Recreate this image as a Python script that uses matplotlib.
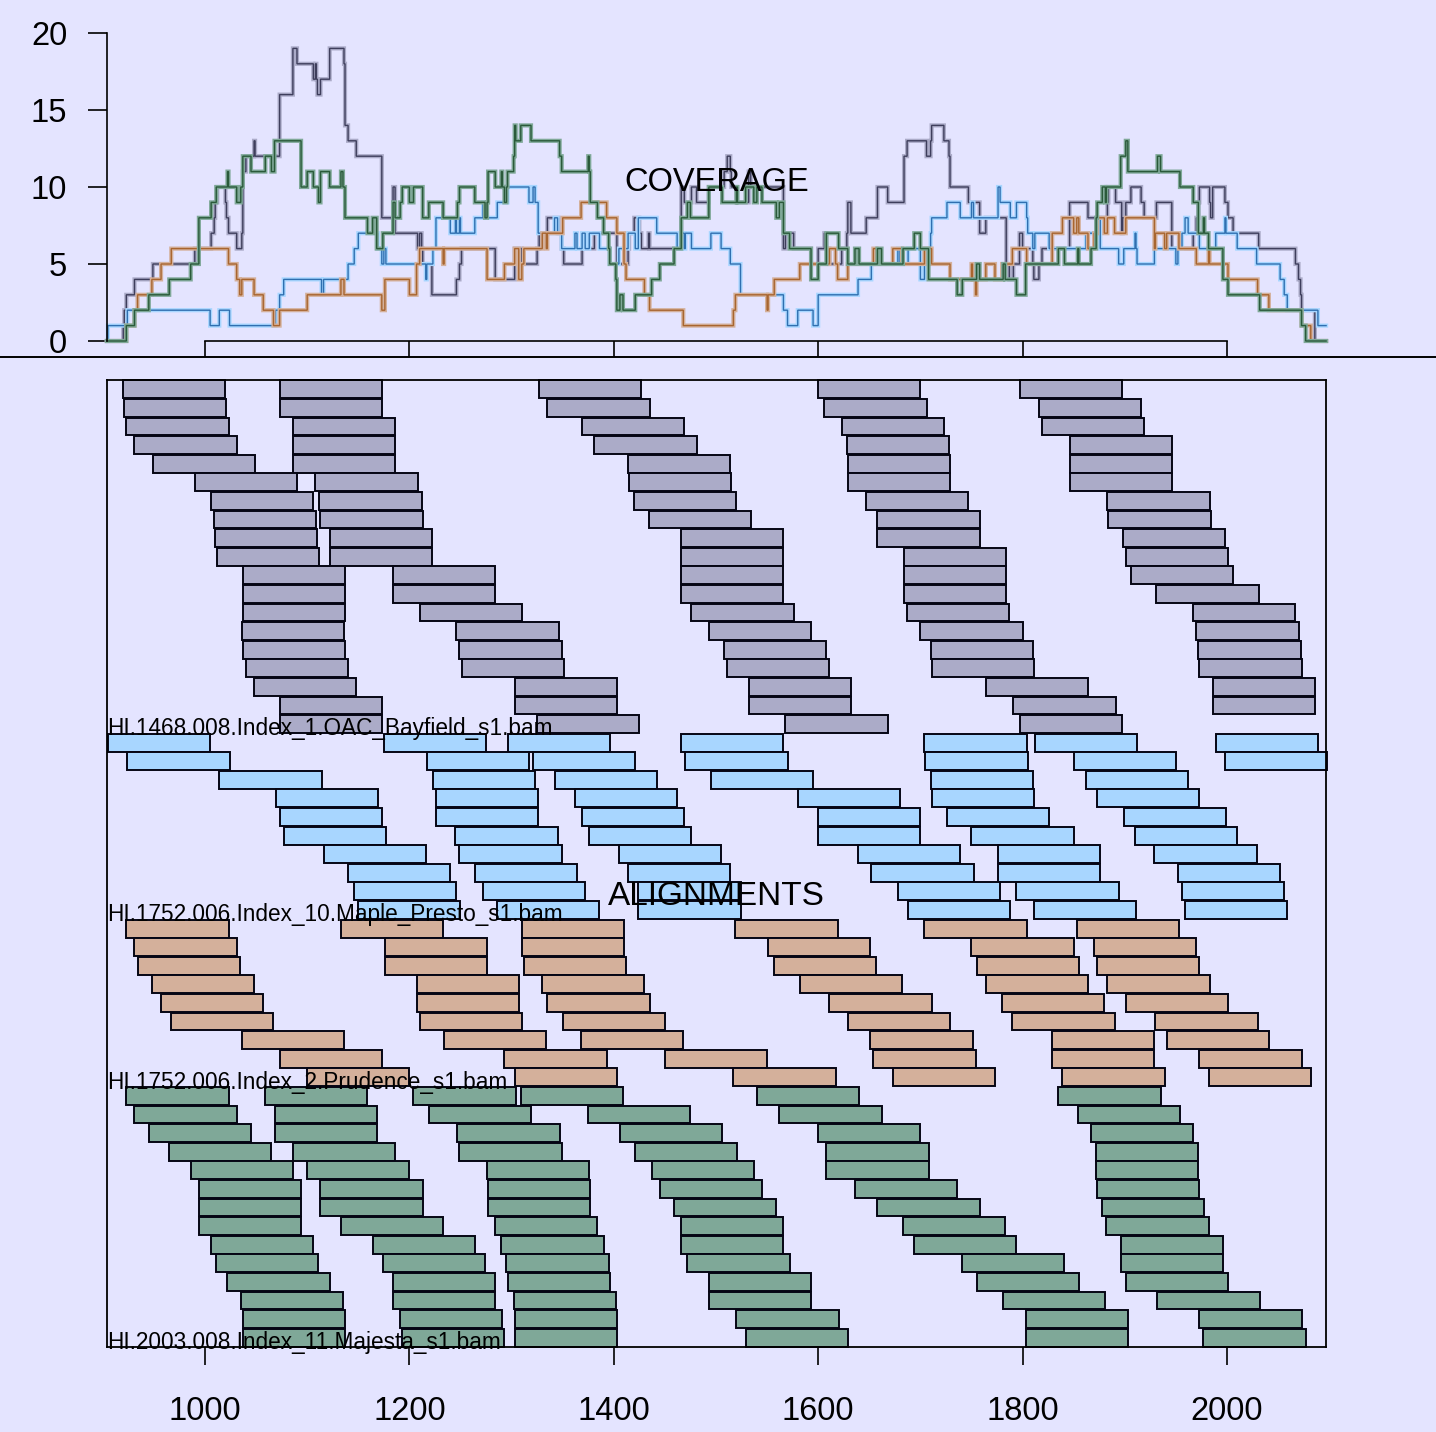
import matplotlib
matplotlib.use("Agg")
import matplotlib.pyplot as plt
import numpy as np
from matplotlib.lines import Line2D

# ---------------------------------------------------------------------------
# Config
# ---------------------------------------------------------------------------

W, H = 1436, 1432
READ_LEN = 100
XMIN, XMAX = 904.1, 2096.9
BG = "#E4E4FF"

plt.rcParams["font.family"] = ["Liberation Sans", "DejaVu Sans"]

SAMPLES = [
    "HI.1468.008.Index_1.OAC_Bayfield_s1.bam",
    "HI.1752.006.Index_10.Maple_Presto_s1.bam",
    "HI.1752.006.Index_2.Prudence_s1.bam",
    "HI.2003.008.Index_11.Majesta_s1.bam",
]
FILLS = ["#ABABC8", "#A8D6FF", "#D4B09B", "#7FA898"]
LINE_COLORS = ["#3E3E5C", "#2F6FB0", "#A8652F", "#2A5A3A"]

# read start positions, one list per stacked row
bayfield_reads = [
    [920, 1073, 1327, 1600, 1797],
    [921, 1073, 1335, 1606, 1816],
    [923, 1086, 1369, 1623, 1819],
    [931, 1086, 1381, 1628, 1846],
    [949, 1086, 1414, 1629, 1846],
    [990, 1108, 1415, 1629, 1846],
    [1006, 1112, 1420, 1647, 1883],
    [1009, 1113, 1434, 1658, 1884],
    [1010, 1122, 1466, 1658, 1898],
    [1012, 1122, 1466, 1684, 1901],
    [1037, 1184, 1466, 1684, 1906],
    [1037, 1184, 1466, 1684, 1931],
    [1037, 1210, 1476, 1687, 1967],
    [1036, 1246, 1493, 1700, 1970],
    [1037, 1249, 1508, 1710, 1972],
    [1040, 1251, 1511, 1711, 1973],
    [1048, 1303, 1532, 1764, 1986],
    [1073, 1303, 1532, 1791, 1986],
    [1073, 1325, 1568, 1797],
]

presto_reads = [
    [905, 1175, 1296, 1466, 1704, 1812, 1989],
    [924, 1217, 1321, 1470, 1705, 1850, 1998],
    [1014, 1223, 1342, 1495, 1710, 1862],
    [1069, 1226, 1362, 1580, 1711, 1873],
    [1073, 1226, 1369, 1600, 1726, 1899],
    [1077, 1245, 1376, 1600, 1750, 1910],
    [1116, 1249, 1405, 1639, 1776, 1929],
    [1140, 1264, 1414, 1652, 1776, 1952],
    [1146, 1272, 1424, 1678, 1794, 1956],
    [1150, 1286, 1424, 1688, 1811, 1959],
]

prudence_reads = [
    [923, 1133, 1310, 1519, 1704, 1853],
    [931, 1176, 1310, 1551, 1750, 1870],
    [934, 1176, 1312, 1557, 1755, 1873],
    [948, 1207, 1330, 1582, 1764, 1883],
    [957, 1207, 1335, 1611, 1780, 1901],
    [967, 1210, 1350, 1629, 1790, 1930],
    [1036, 1234, 1368, 1651, 1829, 1941],
    [1073, 1293, 1450, 1654, 1829, 1973],
    [1100, 1303, 1517, 1673, 1839, 1982],
]

majesta_reads = [
    [923, 1059, 1204, 1309, 1540, 1835],
    [931, 1068, 1219, 1375, 1562, 1854],
    [945, 1068, 1247, 1406, 1600, 1867],
    [965, 1086, 1249, 1421, 1608, 1872],
    [986, 1100, 1276, 1437, 1608, 1872],
    [994, 1113, 1277, 1445, 1636, 1873],
    [994, 1113, 1277, 1459, 1658, 1878],
    [994, 1133, 1284, 1466, 1683, 1882],
    [1006, 1164, 1290, 1466, 1694, 1896],
    [1011, 1174, 1295, 1472, 1741, 1896],
    [1022, 1184, 1296, 1493, 1755, 1901],
    [1035, 1184, 1302, 1493, 1781, 1932],
    [1037, 1191, 1303, 1520, 1803, 1973],
    [1037, 1193, 1303, 1529, 1803, 1977],
]

ALL_READS = [bayfield_reads, presto_reads, prudence_reads, majesta_reads]

XTICKS = [1000, 1200, 1400, 1600, 1800, 2000]
YTICKS = [0, 5, 10, 15, 20]


def coverage(rows, pos):
    starts = np.array([s for r in rows for s in r])
    inside = (pos[:, None] >= starts) & (pos[:, None] < starts + READ_LEN)
    return inside.sum(axis=1)


# ---------------------------------------------------------------------------
# Figure
# ---------------------------------------------------------------------------

fig = plt.figure(figsize=(W / 100, H / 100), dpi=100, facecolor=BG)

# ---- coverage panel ----
ax_cov = fig.add_axes([107 / W, 1 - 341 / H, 1219 / W, 308 / H])
ax_cov.set_facecolor("none")
pos = np.arange(904, 2098)
for rows, fill, dark in zip(ALL_READS, FILLS, LINE_COLORS):
    cov = coverage(rows, pos)
    ax_cov.plot(pos, cov, drawstyle="steps-post", color=fill, lw=3.0,
                clip_on=False, solid_joinstyle="miter")
    ax_cov.plot(pos, cov, drawstyle="steps-post", color=dark, lw=1.0,
                clip_on=False, solid_joinstyle="miter")

ax_cov.set_xlim(XMIN, XMAX)
ax_cov.set_ylim(0, 20)
for side in ["top", "right"]:
    ax_cov.spines[side].set_visible(False)
ax_cov.spines["left"].set_bounds(0, 20)
ax_cov.spines["bottom"].set_bounds(1000, 2000)
for side in ["left", "bottom"]:
    ax_cov.spines[side].set_linewidth(1.2)
ax_cov.set_xticks(XTICKS)
ax_cov.set_xticklabels([])
ax_cov.set_yticks(YTICKS)
ax_cov.tick_params(axis="x", length=11.5, width=1.2, direction="out")
ax_cov.tick_params(axis="y", length=13.7, width=1.2, direction="out",
                   labelsize=23.5, pad=15)
ax_cov.text(0.5, 0.513, "COVERAGE", transform=ax_cov.transAxes,
            ha="center", va="center", fontsize=23.5)

# separator between the two panels
fig.add_artist(Line2D([0, 1], [1 - 357 / H] * 2, transform=fig.transFigure,
                      color="black", lw=1.4))

# ---- alignments panel ----
ax_aln = fig.add_axes([107 / W, 1 - 1347 / H, 1219 / W, 967 / H])
ax_aln.set_facecolor("none")

row = 1
for label, rows, fill in zip(SAMPLES, ALL_READS, FILLS):
    for starts in rows:
        ax_aln.barh([row] * len(starts), [READ_LEN] * len(starts), left=starts,
                    height=0.96, color=fill, edgecolor="#050514", linewidth=1.4,
                    clip_on=False)
        row += 1
    ax_aln.text(XMIN + 0.5, row - 1 + 0.25, label, ha="left", va="center",
                fontsize=16.3, zorder=5)

ax_aln.set_xlim(XMIN, XMAX)
ax_aln.set_ylim(row - 0.5, 0.5)
for side in ax_aln.spines.values():
    side.set_linewidth(1.3)
ax_aln.set_yticks([])
ax_aln.set_xticks(XTICKS)
ax_aln.set_xticklabels([str(t) for t in XTICKS])
ax_aln.tick_params(axis="x", length=13, width=1.2, direction="out",
                   labelsize=23.5, pad=22)
ax_aln.text(0.5, 0.466, "ALIGNMENTS", transform=ax_aln.transAxes,
            ha="center", va="center", fontsize=24, zorder=6)

fig.savefig("out.png", dpi=100, facecolor=BG)
